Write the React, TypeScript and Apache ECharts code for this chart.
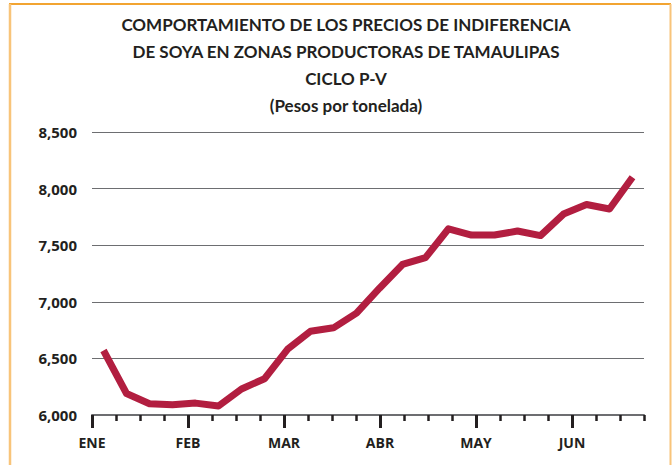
import React, { useEffect, useRef } from "react";
import * as echarts from "echarts";

const titleLines = [
  "COMPORTAMIENTO DE LOS PRECIOS DE INDIFERENCIA",
  "DE SOYA EN ZONAS PRODUCTORAS DE TAMAULIPAS",
  "CICLO P-V",
  "(Pesos por tonelada)",
];

// weekly observations (24 weeks, Jan to Jun)
const weeks = [
  "S1", "S2", "S3", "S4", "S5", "S6", "S7", "S8", "S9", "S10", "S11", "S12",
  "S13", "S14", "S15", "S16", "S17", "S18", "S19", "S20", "S21", "S22", "S23", "S24",
];
const prices = [
  6570, 6190, 6100, 6090, 6105, 6080, 6230, 6320, 6580, 6740, 6770, 6900,
  7120, 7330, 7390, 7645, 7590, 7590, 7625, 7585, 7775, 7860, 7820, 8100,
];

// tick positions along the time axis (24 ticks), labels at month starts
const tickLabels = [
  "ENE", "", "", "", "FEB", "", "", "", "MAR", "", "", "", "ABR", "", "", "",
  "MAY", "", "", "", "JUN", "", "", "",
];

const yMin = 6000;
const yMax = 8500;
const yStep = 500;

export default function App() {
  const ref = useRef<HTMLDivElement>(null);
  useEffect(() => {
    document.body.style.margin = "0";
    const chart = echarts.init(ref.current!, undefined, { renderer: "svg" });
    const font = "Open Sans";
    chart.setOption({
      animation: false,
      backgroundColor: "#ffffff",
      title: {
        text: titleLines.join("\n"),
        left: 341,
        textAlign: "center",
        top: 6,
        textStyle: {
          fontFamily: "Lato",
          fontWeight: "bold",
          fontSize: 17,
          lineHeight: 27,
          color: "#231f20",
        },
      },
      graphic: [
        { type: "line", shape: { x1: 9, y1: 4, x2: 671, y2: 4 }, style: { stroke: "#F2A431", lineWidth: 2 } },
        { type: "line", shape: { x1: 10, y1: 4, x2: 10, y2: 470 }, style: { stroke: "#F8C47A", lineWidth: 2.5 } },
        { type: "line", shape: { x1: 670.5, y1: 4, x2: 670.5, y2: 470 }, style: { stroke: "#F8C47A", lineWidth: 2 } },
      ],
      grid: { left: 92, right: 28, top: 132, bottom: 50, containLabel: false },
      xAxis: [
        {
          type: "category",
          data: weeks,
          boundaryGap: true,
          show: false,
        },
        {
          type: "category",
          data: tickLabels,
          boundaryGap: false,
          position: "bottom",
          axisLine: { show: true, lineStyle: { color: "#6d6e71", width: 2 } },
          axisTick: { show: true, interval: 0, length: 6, lineStyle: { color: "#231f20", width: 2.5 } },
          axisLabel: { show: false },
          splitLine: { show: false },
        },
        {
          type: "category",
          data: tickLabels,
          boundaryGap: false,
          position: "bottom",
          axisLine: { show: false },
          axisTick: { show: true, interval: 3, length: 13, lineStyle: { color: "#231f20", width: 3 } },
          axisLabel: {
            show: true,
            interval: 3,
            margin: 20,
            fontFamily: font,
            fontWeight: "bold",
            fontSize: 14,
            color: "#231f20",
          },
          splitLine: { show: false },
        },
      ],
      yAxis: {
        type: "value",
        min: yMin,
        max: yMax,
        interval: yStep,
        axisLine: { show: false },
        axisTick: { show: false },
        axisLabel: {
          margin: 15,
          fontFamily: font,
          fontWeight: "bold",
          fontSize: 15,
          color: "#231f20",
          formatter: (v: number) => v.toLocaleString("en-US"),
        },
        splitLine: { lineStyle: { color: "#6d6e71", width: 1.2 } },
      },
      series: [
        {
          type: "line",
          xAxisIndex: 0,
          data: prices,
          symbol: "none",
          lineStyle: { color: "#B21E40", width: 7, join: "round" },
        },
      ],
    });
    return () => chart.dispose();
  }, []);
  return <div ref={ref} style={{ width: 672, height: 465 }} />;
}
